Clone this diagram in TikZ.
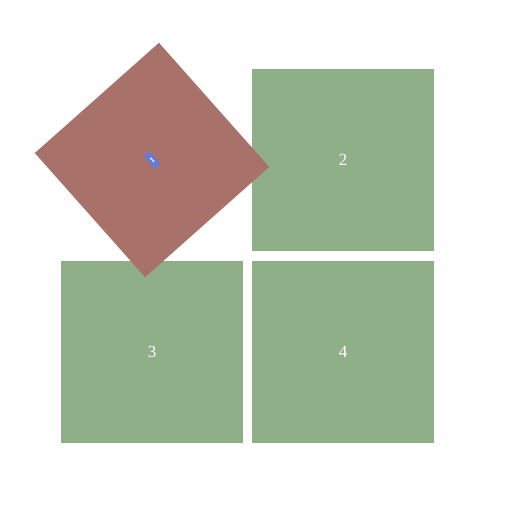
\documentclass[tikz,border=0pt]{standalone}
\usepackage{fontspec}
\setmainfont{Liberation Serif}
\definecolor{tilegreen}{RGB}{143,175,136}
\definecolor{tilered}{RGB}{168,113,106}
\definecolor{selblue}{RGB}{92,124,226}
\begin{document}
\begin{tikzpicture}[x=1pt,y=-1pt,
  tile/.style={fill=tilegreen,draw=none,minimum size=182pt,inner sep=0pt,
    text=white,font=\fontsize{17}{17}\selectfont},
  redtile/.style={fill=tilered,draw=none,minimum size=166pt,inner sep=0pt,rotate=41.6},
  sel/.style={fill=selblue,draw=none,rounded corners=2pt,text=white,
    font=\fontsize{8}{8}\selectfont\bfseries,inner sep=0.8pt,minimum width=7pt,minimum height=17pt,rotate=41.6}]
\useasboundingbox (0,0) rectangle (504,511);
\node[tile] (t2) at (343,160) {2};
\node[tile] (t3) at (152,351.5) {3};
\node[tile] (t4) at (343,351.5) {4};
\node[redtile] (t1) at (152,160) {};
\node[sel] (l1) at (t1.center) {1};
\end{tikzpicture}
\end{document}
